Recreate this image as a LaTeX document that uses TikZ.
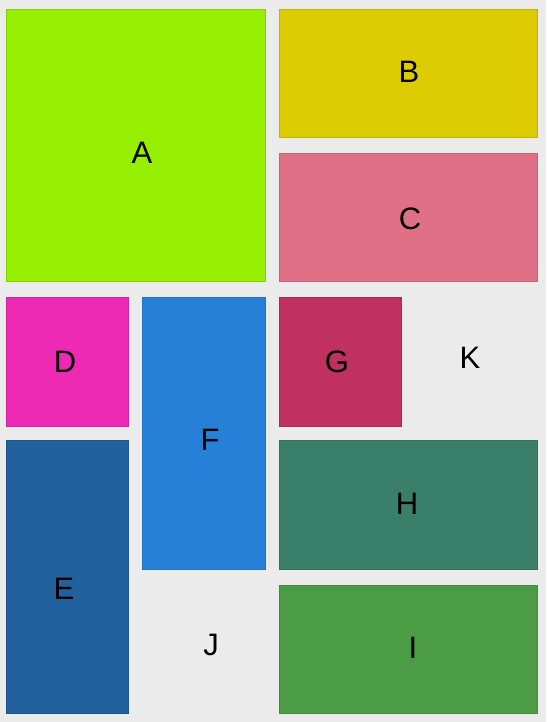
\documentclass[tikz,border=0pt]{standalone}
\usepackage{fontspec}
\setmainfont{Liberation Sans}
\usetikzlibrary{shadows}
\definecolor{bg}{HTML}{EBEBEB}
\definecolor{cA}{HTML}{96EE00}
\definecolor{cB}{HTML}{DCCB00}
\definecolor{cC}{HTML}{E07085}
\definecolor{cD}{HTML}{EE2AB5}
\definecolor{cE}{HTML}{21629E}
\definecolor{cF}{HTML}{2680D8}
\definecolor{cG}{HTML}{C03060}
\definecolor{cH}{HTML}{3A7F6A}
\definecolor{cI}{HTML}{4C9B45}
\begin{document}
\begin{tikzpicture}[x=1pt,y=-1pt,
  cell/.style={draw=#1!88!black, line width=0.7pt, fill=#1,
    drop shadow={shadow xshift=1pt, shadow yshift=-1pt, opacity=0.12, fill=black}},
  lbl/.style={font=\fontsize{31}{31}\selectfont, text=black, inner sep=0pt}]
\useasboundingbox[fill=bg] (0,0) rectangle (546,722);
% boxes
\path[cell=cA] (6,9) rectangle (265,281);
\path[cell=cB] (279,9) rectangle (537,137);
\path[cell=cC] (279,153) rectangle (537,281);
\path[cell=cD] (6,297) rectangle (128,426);
\path[cell=cF] (142,297) rectangle (265,569);
\path[cell=cG] (279,297) rectangle (401,426);
\path[cell=cE] (6,440) rectangle (128,713);
\path[cell=cH] (279,440) rectangle (537,569);
\path[cell=cI] (279,585) rectangle (537,713);
% labels
\node[lbl] (A) at (142,153) {A};
\node[lbl] (B) at (409,72) {B};
\node[lbl] (C) at (410,219) {C};
\node[lbl] (D) at (65,362) {D};
\node[lbl] (E) at (64,589) {E};
\node[lbl] (F) at (210,440) {F};
\node[lbl] (G) at (337,362) {G};
\node[lbl] (H) at (407,504) {H};
\node[lbl] (I) at (413,648) {I};
\node[lbl] (J) at (211,645) {J};
\node[lbl] (K) at (470,358) {K};
\end{tikzpicture}
\end{document}
